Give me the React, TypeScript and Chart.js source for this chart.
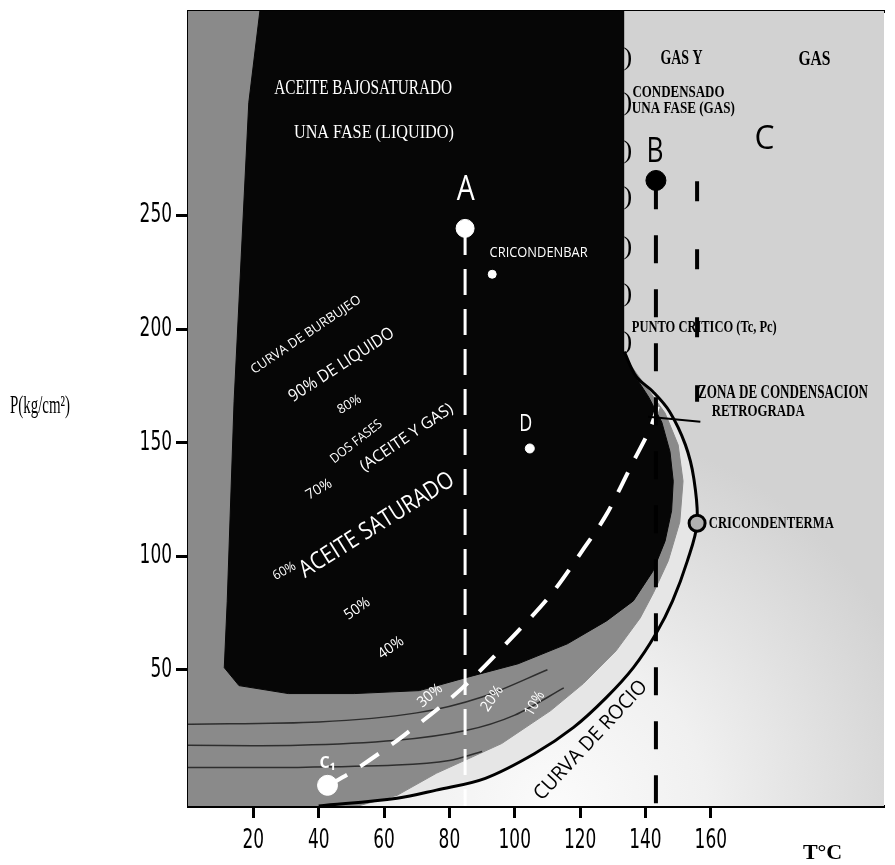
import React, { useEffect, useRef } from 'react';
import { Chart, registerables } from 'chart.js';

Chart.register(...registerables);

// ---- axes ----
const X_MIN = 0;
const X_MAX = 213;
const Y_MIN = -10;
const Y_MAX = 340;
const xTicks = [20, 40, 60, 80, 100, 120, 140, 160];
const yTicks = [50, 100, 150, 200, 250];

// ---- curva de rocío (envolvente exterior) ----
const dewT = [40, 64, 76, 91, 106, 118, 128, 136.3, 143.2, 148.3, 152.8, 155.8, 154.8, 152.2, 147.4, 142.3, 137.2, 133.5];
const dewP = [-10, -6.6, -3, 2.2, 13, 24.6, 37.7, 50.9, 65.8, 80.3, 97.8, 114.5, 134.2, 149.1, 163.6, 172.4, 179, 190];

// ---- borde interior de la banda clara ----
const band1T = [52, 64, 76, 96, 111, 121, 131, 138.4, 142.5, 147, 150.5, 151.5, 150, 146, 140.5, 135.5, 133.5];
const band1P = [-10, -5.3, 4.4, 17.5, 32, 43.9, 58.3, 72.8, 84, 98, 115, 133, 149, 163, 174, 184, 190];

// ---- región negra (líquido / dos fases) ----
const blackT = [22, 133.3, 133.3, 136.5, 141, 145, 147.5, 148.5, 148, 146, 142.3, 136.3, 128.1, 116.1, 101, 85, 70.8, 50.9, 30.7, 15.6, 11.1, 12, 14.1, 18.6, 22];
const blackP = [340, 340, 190, 180, 170, 159, 146, 133, 120, 106.6, 93.4, 80.3, 71.5, 61.4, 52.6, 46.5, 40.8, 39.5, 39.5, 43, 50.9, 80, 168, 299.6, 340];

// ---- líneas de calidad (zona inferior) ----
const q1T = [0, 33.7, 63.9, 85, 100, 115];
const q1P = [16.7, 16.7, 18.9, 23.2, 30, 42];
const q2T = [0, 33.7, 63.9, 80, 90];
const q2P = [7, 7, 8, 10, 14];
const q3T = [0, 40, 70, 90, 110];
const q3P = [26, 27, 31, 38, 50];

// ---- línea discontinua blanca (desde C1) ----
const critT = [42.8, 50.9, 66, 84, 101, 111.2, 121.2, 128.1, 136.3, 141.4, 143.8];
const critP = [-1, 5.7, 21, 42, 67, 83.3, 103.5, 118.4, 141.7, 156.1, 165.8];

// ---- líneas verticales ----
const lineAT = [84.8, 84.8];
const lineAP = [244, -10];
const lineBT = [143.2, 143.2];
const lineBP = [265, -10];
const lineCtT = [155.8, 155.8];
const lineCtP = [265, 168];
const pointerT = [140.8, 156.8];
const pointerP = [161.4, 159.2];

// ---- puntos ----
const pointA = [84.8, 244.3];
const pointCricondenbar = [93.1, 224.1];
const pointD = [104.6, 147.4];
const pointB = [143.2, 265.4];
const pointC1 = [42.7, -0.9];
const pointCricondenterma = [155.8, 114.5];

const SERIF = "'Liberation Serif', 'DejaVu Serif', serif";
const SANS = "'Open Sans', 'DejaVu Sans', sans-serif";
const TICK_FONT = "27px 'DejaVu Sans', 'Liberation Sans', sans-serif";

type Ann = { text: string; t: number; p: number; color: string; font: string; w?: number; rot?: number };

const annotations: Ann[] = [
  { text: 'ACEITE BAJOSATURADO', t: 53.6, p: 305.7, color: '#fff', font: `20px ${SERIF}`, w: 178 },
  { text: 'UNA FASE (LIQUIDO)', t: 56.9, p: 286.4, color: '#fff', font: `19px ${SERIF}`, w: 160 },
  { text: 'A', t: 85, p: 261, color: '#fff', font: `34px ${SANS}`, w: 18 },
  { text: 'CRICONDENBAR', t: 107.3, p: 233.3, color: '#fff', font: `14px ${SANS}`, w: 98 },
  { text: 'B', t: 142.9, p: 277.6, color: '#000', font: `34px ${SANS}`, w: 17 },
  { text: 'C', t: 176.4, p: 283.3, color: '#000', font: `32px ${SANS}`, w: 20 },
  { text: 'GAS Y', t: 151, p: 318.9, color: '#000', font: `bold 20px ${SERIF}`, w: 42 },
  { text: 'GAS', t: 191.7, p: 318.4, color: '#000', font: `bold 20px ${SERIF}`, w: 32 },
  { text: 'CONDENSADO', t: 150.1, p: 304.2, color: '#000', font: `bold 17px ${SERIF}`, w: 92 },
  { text: 'UNA FASE (GAS)', t: 151.6, p: 296.9, color: '#000', font: `bold 17px ${SERIF}`, w: 103 },
  { text: 'PUNTO CRITICO (Tc, Pc)', t: 158, p: 200.4, color: '#000', font: `bold 17px ${SERIF}`, w: 145 },
  { text: 'ZONA DE CONDENSACION', t: 182.1, p: 171.5, color: '#000', font: `bold 18px ${SERIF}`, w: 170 },
  { text: 'RETROGRADA', t: 174.5, p: 163.6, color: '#000', font: `bold 17px ${SERIF}`, w: 93 },
  { text: 'CRICONDENTERMA', t: 178.5, p: 114.5, color: '#000', font: `bold 17px ${SERIF}`, w: 125 },
  { text: 'P(kg/cm²)', t: -45.3, p: 165.8, color: '#000', font: `25px ${SERIF}`, w: 60 },
  { text: 'T°C', t: 194.2, p: -30.7, color: '#000', font: `bold 22px ${SERIF}`, w: 48 },
  { text: 'CURVA DE BURBUJEO', t: 36.1, p: 197.4, color: '#fff', font: `13px ${SANS}`, w: 150, rot: -34 },
  { text: '90% DE LIQUIDO', t: 47, p: 184.2, color: '#fff', font: `17px ${SANS}`, w: 122, rot: -33 },
  { text: '80%', t: 49.4, p: 166.7, color: '#fff', font: `13px ${SANS}`, w: 28, rot: -30 },
  { text: 'DOS FASES', t: 51.5, p: 150.4, color: '#fff', font: `13px ${SANS}`, w: 62, rot: -38 },
  { text: '(ACEITE Y GAS)', t: 66.9, p: 152.2, color: '#fff', font: `16px ${SANS}`, w: 115, rot: -34 },
  { text: '70%', t: 40.1, p: 129.4, color: '#fff', font: `14px ${SANS}`, w: 28, rot: -30 },
  { text: 'ACEITE SATURADO', t: 57.8, p: 113.6, color: '#fff', font: `24px ${SANS}`, w: 178, rot: -32 },
  { text: '60%', t: 29.5, p: 93.4, color: '#fff', font: `13px ${SANS}`, w: 24, rot: -30 },
  { text: '50%', t: 51.8, p: 76.8, color: '#fff', font: `15px ${SANS}`, w: 28, rot: -35 },
  { text: '40%', t: 62.1, p: 59.6, color: '#fff', font: `15px ${SANS}`, w: 28, rot: -35 },
  { text: '30%', t: 74.1, p: 38.6, color: '#fff', font: `15px ${SANS}`, w: 28, rot: -40 },
  { text: '20%', t: 93.1, p: 37.3, color: '#fff', font: `15px ${SANS}`, w: 28, rot: -55 },
  { text: '10%', t: 106.1, p: 35.1, color: '#fff', font: `15px ${SANS}`, w: 26, rot: -60 },
  { text: 'CURVA DE ROCIO', t: 123.3, p: 18.9, color: '#000', font: `20px ${SANS}`, w: 156, rot: -47 },
  { text: 'D', t: 103.4, p: 158.3, color: '#fff', font: `24px ${SANS}`, w: 13 },
  { text: 'C₁', t: 42.7, p: 8.8, color: '#fff', font: `bold 16px ${SANS}`, w: 20 },
];

const edgeMarksP = [319.3, 299.6, 278.5, 257.9, 236, 215.4, 194.3];
const edgeMarkT = 134.6;

const pts = (xs: number[], ys: number[]) => xs.map((x, i) => ({ x, y: ys[i] }));

const poly = (data: any[], color: string, order: number) => ({
  data,
  showLine: true,
  fill: 'shape',
  backgroundColor: color,
  borderColor: color,
  borderWidth: 1,
  pointRadius: 0,
  tension: 0,
  order,
});

const line = (data: any[], color: string, width: number, order: number, dash: number[] = [], tension = 0) => ({
  data,
  showLine: true,
  fill: false,
  borderColor: color,
  borderWidth: width,
  borderDash: dash,
  borderCapStyle: 'butt',
  pointRadius: 0,
  tension,
  order,
});

const dot = (p: number[], r: number, bg: string, border: string, bw: number, order: number) => ({
  data: [{ x: p[0], y: p[1] }],
  showLine: false,
  pointRadius: r,
  pointBackgroundColor: bg,
  pointBorderColor: border,
  pointBorderWidth: bw,
  order,
});

const backgroundPlugin = {
  id: 'bgGradient',
  beforeDatasetsDraw(chart: any) {
    const { ctx, chartArea, scales } = chart;
    const cx = scales.x.getPixelForValue(112);
    const cy = scales.y.getPixelForValue(Y_MIN);
    const g = ctx.createRadialGradient(cx, cy, 0, cx, cy, 380);
    g.addColorStop(0, '#fbfbfb');
    g.addColorStop(0.4, '#f0f0f0');
    g.addColorStop(1, '#d2d2d2');
    ctx.save();
    ctx.fillStyle = g;
    ctx.fillRect(chartArea.left, chartArea.top, chartArea.right - chartArea.left, chartArea.bottom - chartArea.top);
    ctx.restore();
  },
};

const textPlugin = {
  id: 'texts',
  afterDatasetsDraw(chart: any) {
    const { ctx, scales, chartArea } = chart;
    const draw = (a: Ann) => {
      const x = scales.x.getPixelForValue(a.t);
      const y = scales.y.getPixelForValue(a.p);
      ctx.save();
      ctx.translate(x, y);
      if (a.rot) ctx.rotate((a.rot * Math.PI) / 180);
      ctx.font = a.font;
      ctx.fillStyle = a.color;
      ctx.textAlign = 'center';
      ctx.textBaseline = 'middle';
      if (a.w) ctx.fillText(a.text, 0, 0, a.w);
      else ctx.fillText(a.text, 0, 0);
      ctx.restore();
    };
    annotations.forEach(draw);
    edgeMarksP.forEach((p) => draw({ text: ')', t: edgeMarkT, p, color: '#000', font: `26px ${SERIF}`, w: 9 }));

    // tick labels (narrow, condensed like the original)
    ctx.save();
    ctx.font = TICK_FONT;
    ctx.fillStyle = '#000';
    ctx.textBaseline = 'middle';
    ctx.textAlign = 'right';
    yTicks.forEach((v) => {
      const s = String(v);
      ctx.fillText(s, chartArea.left - 16, scales.y.getPixelForValue(v), s.length * 10.8);
    });
    ctx.textAlign = 'center';
    xTicks.forEach((v) => {
      const s = String(v);
      ctx.fillText(s, scales.x.getPixelForValue(v), chartArea.bottom + 35, s.length * 10.8);
    });
    ctx.restore();
  },
};

export default function App() {
  const ref = useRef<HTMLCanvasElement>(null);
  useEffect(() => {
    const dFill = pts([...band1T, blackT[0], X_MIN, X_MIN], [...band1P, Y_MAX, Y_MAX, Y_MIN]);
    const chart = new Chart(ref.current as HTMLCanvasElement, {
      type: 'scatter',
      data: {
        datasets: [
          poly(pts(dewT, dewP), '#e6e6e6', 100),
          poly(dFill, '#8a8a8a', 95),
          line(pts(q1T, q1P), '#2e2e2e', 1.5, 92, [], 0.3),
          line(pts(q2T, q2P), '#2e2e2e', 1.5, 92, [], 0.3),
          line(pts(q3T, q3P), '#2e2e2e', 1.5, 92, [], 0.3),
          poly(pts(blackT, blackP), '#060606', 90),
          line(pts(dewT, dewP), '#000', 3, 80, [], 0.35),
          line(pts(critT, critP), '#fff', 4, 70, [22, 16], 0.3),
          line(pts(lineAT, lineAP), '#fff', 3, 65, [26, 14]),
          line(pts(lineBT, lineBP), '#000', 4, 64, [28, 26]),
          line(pts(lineCtT, lineCtP), '#000', 4, 63, [20, 48]),
          line(pts(pointerT, pointerP), '#000', 2, 62),
          dot(pointA, 9, '#fff', '#fff', 1, 10),
          dot(pointCricondenbar, 4, '#fff', '#fff', 1, 10),
          dot(pointD, 4.5, '#fff', '#fff', 1, 10),
          dot(pointB, 10, '#000', '#000', 1, 10),
          dot(pointC1, 10, '#fff', '#fff', 1, 10),
          dot(pointCricondenterma, 8, '#b0b0b0', '#000', 3, 10),
        ] as any,
      },
      options: {
        animation: false,
        responsive: false,
        events: [],
        layout: { padding: { top: 8, left: 0, right: 0, bottom: 0 } },
        plugins: { legend: { display: false }, tooltip: { enabled: false } },
        scales: {
          x: {
            type: 'linear',
            position: 'bottom',
            min: X_MIN,
            max: X_MAX,
            afterBuildTicks: (s: any) => {
              s.ticks = xTicks.map((v) => ({ value: v }));
            },
            afterFit: (s: any) => {
              s.height = 59;
            },
            ticks: { display: false },
            grid: { drawOnChartArea: false, drawTicks: true, tickLength: 12, tickWidth: 3, tickColor: '#000' },
            border: { display: true, color: '#000', width: 3 },
          },
          xTop: {
            type: 'linear',
            position: 'top',
            min: X_MIN,
            max: X_MAX,
            afterFit: (s: any) => {
              s.height = 0;
            },
            ticks: { display: false },
            grid: { display: false },
            border: { display: true, color: '#000', width: 3 },
          },
          y: {
            type: 'linear',
            position: 'left',
            min: Y_MIN,
            max: Y_MAX,
            afterBuildTicks: (s: any) => {
              s.ticks = yTicks.map((v) => ({ value: v }));
            },
            afterFit: (s: any) => {
              s.width = 188;
            },
            ticks: { display: false },
            grid: { drawOnChartArea: false, drawTicks: true, tickLength: 12, tickWidth: 3, tickColor: '#000' },
            border: { display: true, color: '#000', width: 3 },
          },
        },
      } as any,
      plugins: [backgroundPlugin, textPlugin],
    });
    return () => chart.destroy();
  }, []);
  return (
    <div style={{ position: 'absolute', left: 0, top: 0, width: 895, height: 865, background: '#fff' }}>
      <canvas ref={ref} width={895} height={865} style={{ display: 'block' }} />
    </div>
  );
}
